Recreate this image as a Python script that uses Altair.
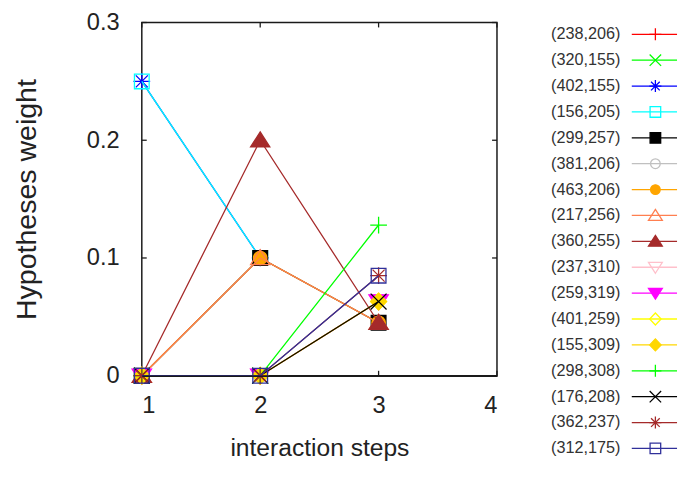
import altair as alt
import pandas as pd

# ---- data ----
labels = ["(238,206)", "(320,155)", "(402,155)", "(156,205)", "(299,257)", "(381,206)",
          "(463,206)", "(217,256)", "(360,255)", "(237,310)", "(259,319)", "(401,259)",
          "(155,309)", "(298,308)", "(176,208)", "(362,237)", "(312,175)"]
steps = [1, 2, 3]
# weight of each hypothesis at interaction steps 1, 2, 3 (None = no point)
weights = [
    [0, 0, None],        # (238,206)
    [0, 0, None],        # (320,155)
    [0.25, 0.1, None],   # (402,155)
    [0.25, 0.1, None],   # (156,205)
    [0, 0.1, 0.045],     # (299,257)
    [0, 0, None],        # (381,206)
    [0, 0.1, 0.045],     # (463,206)
    [0, 0.1, 0.045],     # (217,256)
    [0, 0.2, 0.045],     # (360,255)
    [0, 0, 0.063],       # (237,310)
    [0, 0, 0.063],       # (259,319)
    [0, 0, 0.063],       # (401,259)
    [0, 0, 0.063],       # (155,309)
    [0, 0, 0.128],       # (298,308)
    [0, 0, 0.063],       # (176,208)
    [0, 0, 0.085],       # (362,237)
    [0, 0, 0.085],       # (312,175)
]
x_tick_values = [1, 2, 3, 4]
y_tick_values = [0, 0.1, 0.2, 0.3]

# ---- styles ----
colors = ["#ff0000", "#00ff00", "#0000ff", "#00ffff", "#000000", "#c0c0c0",
          "#ffa500", "#ff7f50", "#a52a2a", "#ffc0cb", "#ff00ff", "#ffff00",
          "#ffd700", "#00ff00", "#000000", "#a52a2a", "#30309a"]
markers = ["plus", "x", "star", "square", "square", "circle", "circle", "tri_up", "tri_up",
           "tri_down", "tri_down", "diamond", "diamond", "plus", "x", "star", "square"]
filled = [False, False, False, False, True, False, True, False, True,
          False, True, False, True, False, False, False, False]
paths = {
    "plus": "M-1,0L1,0M0,-1L0,1",
    "x": "M-0.95,-0.95L0.95,0.95M-0.95,0.95L0.95,-0.95",
    "star": "M-1,0L1,0M0,-1L0,1M-0.72,-0.72L0.72,0.72M-0.72,0.72L0.72,-0.72",
    "square": "M-0.88,-0.88L0.88,-0.88L0.88,0.88L-0.88,0.88Z",
    "circle": "M0.8,0A0.8,0.8 0 1,1 -0.8,0A0.8,0.8 0 1,1 0.8,0Z",
    "tri_up": "M0,-1L1.15,0.8L-1.15,0.8Z",
    "tri_down": "M0,1L1.15,-0.8L-1.15,-0.8Z",
    "diamond": "M0,-1L0.95,0L0,1L-0.95,0Z",
}

FONT = "Liberation Sans"
W, H = 361, 359
TICK = 5
FRAME = "#1a1a1a"

rows = []
for i, ws in enumerate(weights):
    for s, w in zip(steps, ws):
        if w is not None:
            rows.append({"idx": i, "series": labels[i], "step": s, "weight": w})
df = pd.DataFrame(rows)

xs = alt.Scale(domain=[1, 4], nice=False, zero=False)
ys = alt.Scale(domain=[0, 0.3], nice=False)
x_enc = alt.X("step:Q", scale=xs, axis=alt.Axis(
    values=x_tick_values, format="d", title="interaction steps", labelFontSize=24,
    labelPadding=18, titleFontSize=25, titlePadding=19,
    domain=True, domainColor=FRAME, domainWidth=1.5, zindex=1))
y_enc = alt.Y("weight:Q", scale=ys, axis=alt.Axis(
    values=y_tick_values, format="~g", title="Hypotheses weight", labelFontSize=24,
    labelPadding=23, titleFontSize=29, titlePadding=46))

layers = []
# inner ticks (gnuplot style)
xt = pd.DataFrame({"step": x_tick_values})
yt = pd.DataFrame({"weight": y_tick_values})
tick_style = dict(color=FRAME, strokeWidth=1.3)
layers.append(alt.Chart(xt).mark_rule(**tick_style).encode(
    x=x_enc, y=alt.value(H), y2=alt.value(H - TICK)))
layers.append(alt.Chart(xt).mark_rule(**tick_style).encode(
    x=x_enc, y=alt.value(0), y2=alt.value(TICK)))
layers.append(alt.Chart(yt).mark_rule(**tick_style).encode(
    y=y_enc, x=alt.value(0), x2=alt.value(TICK)))
layers.append(alt.Chart(yt).mark_rule(**tick_style).encode(
    y=y_enc, x=alt.value(W - TICK), x2=alt.value(W)))

base = alt.Chart(df)
for i in range(len(labels)):
    b = base.transform_filter(alt.datum.idx == i)
    layers.append(b.mark_line(color=colors[i], strokeWidth=1.3).encode(x=x_enc, y=y_enc))
    pkw = dict(shape=paths[markers[i]], size=289, strokeWidth=1.3, opacity=1,
               stroke=colors[i], filled=filled[i])
    if filled[i]:
        pkw["fill"] = colors[i]
    layers.append(b.mark_point(**pkw).encode(x=x_enc, y=y_enc))

main = alt.layer(*layers).properties(
    width=W, height=H,
    view=alt.ViewBackground(stroke=FRAME, strokeWidth=1.5))

# ---- legend panel ----
LW, LH = 128, 440
leg = pd.DataFrame({"series": labels, "row": list(range(len(labels)))})
ly = alt.Y("row:Q", scale=alt.Scale(domain=[-0.456, 16.27], nice=False, zero=False, reverse=True), axis=None)
fills = [c if f else "transparent" for c, f in zip(colors, filled)]
lbase = alt.Chart(leg)
ltext = lbase.mark_text(align="left", baseline="middle", fontSize=16.5, font=FONT,
                        color="#333333").encode(x=alt.value(0), y=ly, text="series:N")
lrule = lbase.mark_rule(strokeWidth=1.3).encode(
    x=alt.value(82), x2=alt.value(LW), y=ly,
    color=alt.Color("series:N", scale=alt.Scale(domain=labels, range=colors), legend=None))
lpts = lbase.mark_point(size=150, strokeWidth=1.3, opacity=1).encode(
    x=alt.value(106), y=ly,
    shape=alt.Shape("series:N", scale=alt.Scale(domain=labels, range=[paths[m] for m in markers]), legend=None),
    stroke=alt.Stroke("series:N", scale=alt.Scale(domain=labels, range=colors), legend=None),
    fill=alt.Fill("series:N", scale=alt.Scale(domain=labels, range=fills), legend=None))
legend = alt.layer(ltext, lrule, lpts).properties(
    width=LW, height=LH, view=alt.ViewBackground(stroke="transparent"))

chart = alt.hconcat(main, legend, spacing=52).properties(
    padding={"left": 3, "top": -2, "right": 0, "bottom": 0},
    background="white"
).configure_view(stroke="transparent").configure_axis(
    labelFont=FONT, titleFont=FONT, labelColor="#222222", titleColor="#222222",
    titleFontWeight="normal", grid=False, ticks=False, domain=False
)

chart.save("out.html", embed_options={"renderer": "svg", "actions": False})
